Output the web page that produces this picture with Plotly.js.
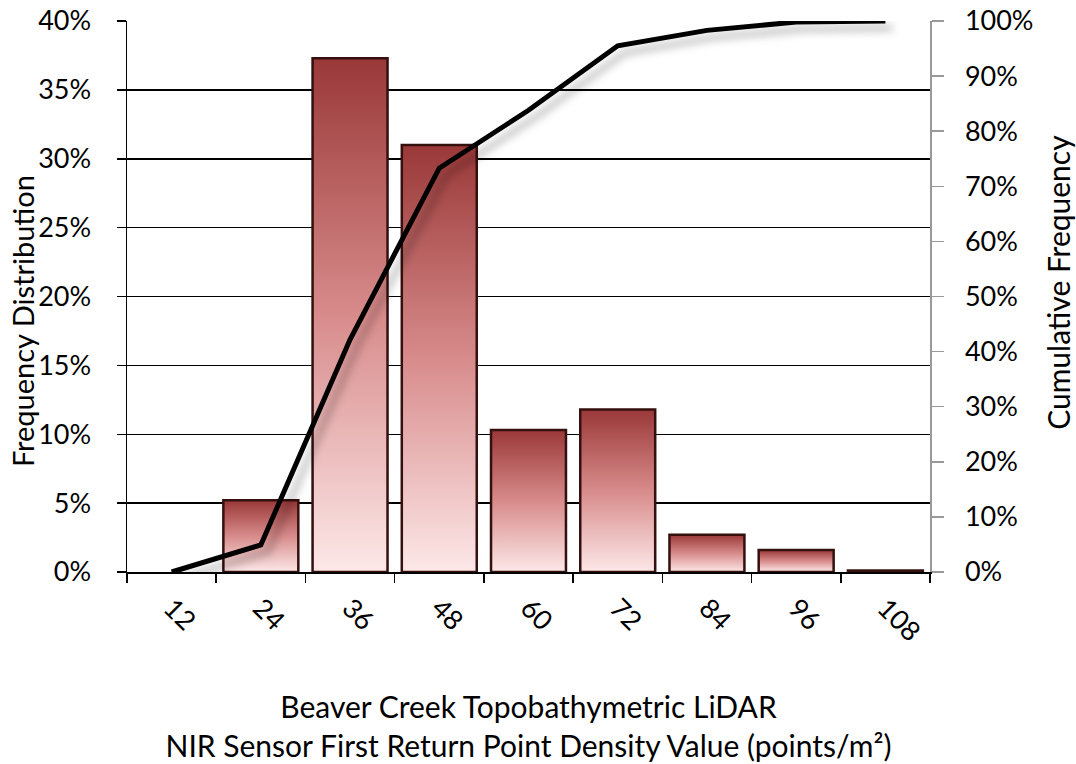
<!DOCTYPE html>
<html>
<head>
<meta charset="utf-8">
<script src="https://cdn.plot.ly/plotly-3.0.1.min.js"></script>
<style>
html,body{margin:0;padding:0;background:#fff;}
#chart{width:1076px;height:764px;}
</style>
</head>
<body>
<div id="chart"></div>
<script>
const categories = ['12','24','36','48','60','72','84','96','108'];
const frequency = [0, 0.052, 0.373, 0.310, 0.103, 0.118, 0.027, 0.016, 0.001];
const cumulative = [0, 0.049, 0.422, 0.733, 0.838, 0.955, 0.983, 0.998, 1.0];
const leftTicks = [0, 0.05, 0.10, 0.15, 0.20, 0.25, 0.30, 0.35, 0.40];
const rightTicks = [0, 0.1, 0.2, 0.3, 0.4, 0.5, 0.6, 0.7, 0.8, 0.9, 1.0];
const leftTitle = 'Frequency Distribution';
const rightTitle = 'Cumulative Frequency';
const xTitle = 'Beaver Creek Topobathymetric LiDAR<br>NIR Sensor First Return Point Density Value (points/m²)';

const FONT = 'Lato, Open Sans, sans-serif';
const TICK = 27;

const traces = [
  {
    type: 'bar',
    x: categories,
    y: frequency,
    marker: {color: '#c96a6a', line: {color: '#34100f', width: frequency.map(v => v > 0 ? 2.5 : 0)}},
    yaxis: 'y',
    hoverinfo: 'skip'
  },
  {
    type: 'scatter',
    mode: 'lines',
    x: categories,
    y: cumulative,
    yaxis: 'y2',
    line: {color: '#000', width: 5},
    hoverinfo: 'skip'
  }
];

const layout = {
  width: 1076, height: 764,
  margin: {l: 127, r: 146, t: 21, b: 192},
  paper_bgcolor: '#fff', plot_bgcolor: '#fff',
  showlegend: false,
  bargap: 0.16,
  font: {family: FONT, size: TICK, color: '#000'},
  xaxis: {
    type: 'category',
    tickson: 'boundaries',
    ticks: 'outside', ticklen: 9, tickcolor: '#000', tickwidth: 1.5,
    tickangle: 45,
    ticklabelstandoff: 8,
    showline: true, linecolor: '#000', linewidth: 1.5,
    showgrid: false,
    tickfont: {family: FONT, size: TICK},
    title: {text: xTitle, font: {family: FONT, size: 30}, standoff: 50}
  },
  yaxis: {
    range: [0, 0.4],
    tickvals: leftTicks,
    tickformat: '.0%',
    ticks: 'outside', ticklen: 9, tickcolor: '#000', tickwidth: 1.5,
    ticklabelstandoff: 20,
    showline: true, linecolor: '#000', linewidth: 1.5,
    showgrid: true, gridcolor: '#000', gridwidth: 1.5,
    zeroline: false,
    tickfont: {family: FONT, size: TICK}
  },
  yaxis2: {
    overlaying: 'y', side: 'right',
    range: [0, 1],
    tickvals: rightTicks,
    tickformat: '.0%',
    ticks: 'outside', ticklen: 12, tickcolor: '#999', tickwidth: 1.5,
    ticklabelstandoff: 16,
    showline: true, linecolor: '#999', linewidth: 1.5,
    showgrid: false, zeroline: false,
    tickfont: {family: FONT, size: TICK}
  },
  annotations: [
    {text: leftTitle, xref: 'paper', yref: 'paper', x: -0.131, y: 0.455,
     xanchor: 'center', yanchor: 'middle', textangle: -90, showarrow: false,
     font: {family: FONT, size: 29}},
    {text: rightTitle, xref: 'paper', yref: 'paper', x: 1.159, y: 0.526,
     xanchor: 'center', yanchor: 'middle', textangle: -90, showarrow: false,
     font: {family: FONT, size: 30}}
  ]
};

Plotly.newPlot('chart', traces, layout, {displayModeBar: false, staticPlot: true}).then(function(gd){
  const svg = gd.querySelector('svg.main-svg');
  const NS = 'http://www.w3.org/2000/svg';
  let defs = svg.querySelector('defs');
  if (!defs) { defs = document.createElementNS(NS, 'defs'); svg.insertBefore(defs, svg.firstChild); }
  const grad = document.createElementNS(NS, 'linearGradient');
  grad.setAttribute('id', 'barGrad');
  grad.setAttribute('x1', '0'); grad.setAttribute('y1', '0');
  grad.setAttribute('x2', '0'); grad.setAttribute('y2', '1');
  [['0', '#9a3838'], ['0.5', '#d88b8b'], ['1', '#fde8e8']].forEach(function(s){
    const st = document.createElementNS(NS, 'stop');
    st.setAttribute('offset', s[0]); st.setAttribute('stop-color', s[1]);
    grad.appendChild(st);
  });
  defs.appendChild(grad);
  const filt = document.createElementNS(NS, 'filter');
  filt.setAttribute('id', 'lineShadow');
  filt.setAttribute('x', '-10%'); filt.setAttribute('y', '-10%');
  filt.setAttribute('width', '130%'); filt.setAttribute('height', '130%');
  const ds = document.createElementNS(NS, 'feDropShadow');
  ds.setAttribute('dx', '7'); ds.setAttribute('dy', '7');
  ds.setAttribute('stdDeviation', '4'); ds.setAttribute('flood-color', '#000');
  ds.setAttribute('flood-opacity', '0.3');
  filt.appendChild(ds);
  defs.appendChild(filt);
  gd.querySelectorAll('.barlayer .point path').forEach(function(p){
    p.style.fill = 'url(#barGrad)';
    p.style.fillOpacity = '1';
  });
  gd.querySelectorAll('.scatterlayer .js-line').forEach(function(p){
    p.setAttribute('filter', 'url(#lineShadow)');
  });
});
</script>
</body>
</html>
